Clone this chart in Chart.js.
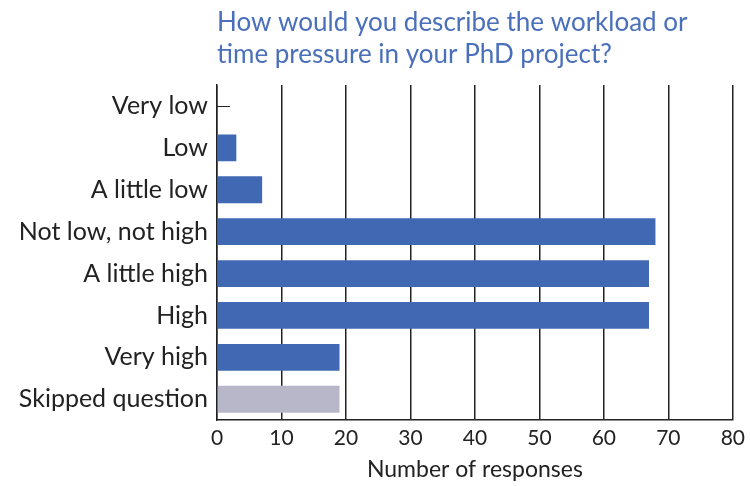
<!DOCTYPE html>
<html>
<head>
<meta charset="utf-8">
<script src="https://cdn.jsdelivr.net/npm/chart.js@4"></script>
<style>
  html, body { margin: 0; padding: 0; background: #fff; }
  #wrap { width: 750px; height: 486px; }
</style>
</head>
<body>
<div id="wrap"><canvas id="workloadChart" width="750" height="486"></canvas></div>
<script>
const categories = ['Very low', 'Low', 'A little low', 'Not low, not high', 'A little high', 'High', 'Very high', 'Skipped question'];
const responses = [0, 3, 7, 68, 67, 67, 19, 19];
const xTicks = [0, 10, 20, 30, 40, 50, 60, 70, 80];
const titleLines = ['How would you describe the workload or', 'time pressure in your PhD project?'];

const FONT = 'Lato, "Open Sans", sans-serif';
const blue = '#4169b3';
const grey = '#b8b7c9';
const barColors = categories.map((c) => (c === 'Skipped question' ? grey : blue));

// the zero answer shows as a short stub on the axis
const zeroStub = {
  id: 'zeroStub',
  afterDatasetsDraw(chart) {
    const { ctx, scales: { x, y } } = chart;
    ctx.save();
    ctx.strokeStyle = '#222';
    ctx.lineWidth = 1;
    responses.forEach((v, i) => {
      if (v !== 0) return;
      const py = Math.round(y.getPixelForValue(i)) + 0.5;
      ctx.beginPath();
      ctx.moveTo(x.getPixelForValue(0), py);
      ctx.lineTo(x.getPixelForValue(2), py);
      ctx.stroke();
    });
    ctx.restore();
  },
};

new Chart(document.getElementById('workloadChart'), {
  type: 'bar',
  data: {
    labels: categories,
    datasets: [{
      data: responses,
      backgroundColor: barColors,
      borderWidth: 0,
      categoryPercentage: 0.9,
      barPercentage: 0.71,
    }],
  },
  options: {
    indexAxis: 'y',
    responsive: false,
    animation: false,
    layout: { padding: { left: 0, right: 2, top: 4, bottom: 3 } },
    scales: {
      x: {
        min: 0,
        max: 80,
        afterBuildTicks: (axis) => { axis.ticks = xTicks.map((v) => ({ value: v })); },
        grid: { color: '#222', lineWidth: 1.5, drawTicks: false },
        border: { display: true, color: '#222', width: 1.5 },
        ticks: { color: '#222', padding: 5, font: { family: FONT, size: 21 } },
        title: {
          display: true,
          text: 'Number of responses',
          color: '#222',
          padding: { top: 0, bottom: 0 },
          font: { family: FONT, size: 23 },
        },
      },
      y: {
        afterFit: (axis) => { axis.width = 217; },
        grid: { display: false, drawTicks: false },
        border: { display: true, color: '#222', width: 1.5 },
        ticks: { color: '#222', padding: 9, font: { family: FONT, size: 25 } },
      },
    },
    plugins: {
      legend: { display: false },
      tooltip: { enabled: false },
      title: {
        display: true,
        text: titleLines,
        align: 'start',
        fullSize: false,
        color: '#4a6fbb',
        padding: { top: 2, bottom: 14 },
        font: { family: FONT, size: 26, weight: 'normal', lineHeight: 1.25 },
      },
    },
  },
  plugins: [zeroStub],
});
</script>
</body>
</html>
